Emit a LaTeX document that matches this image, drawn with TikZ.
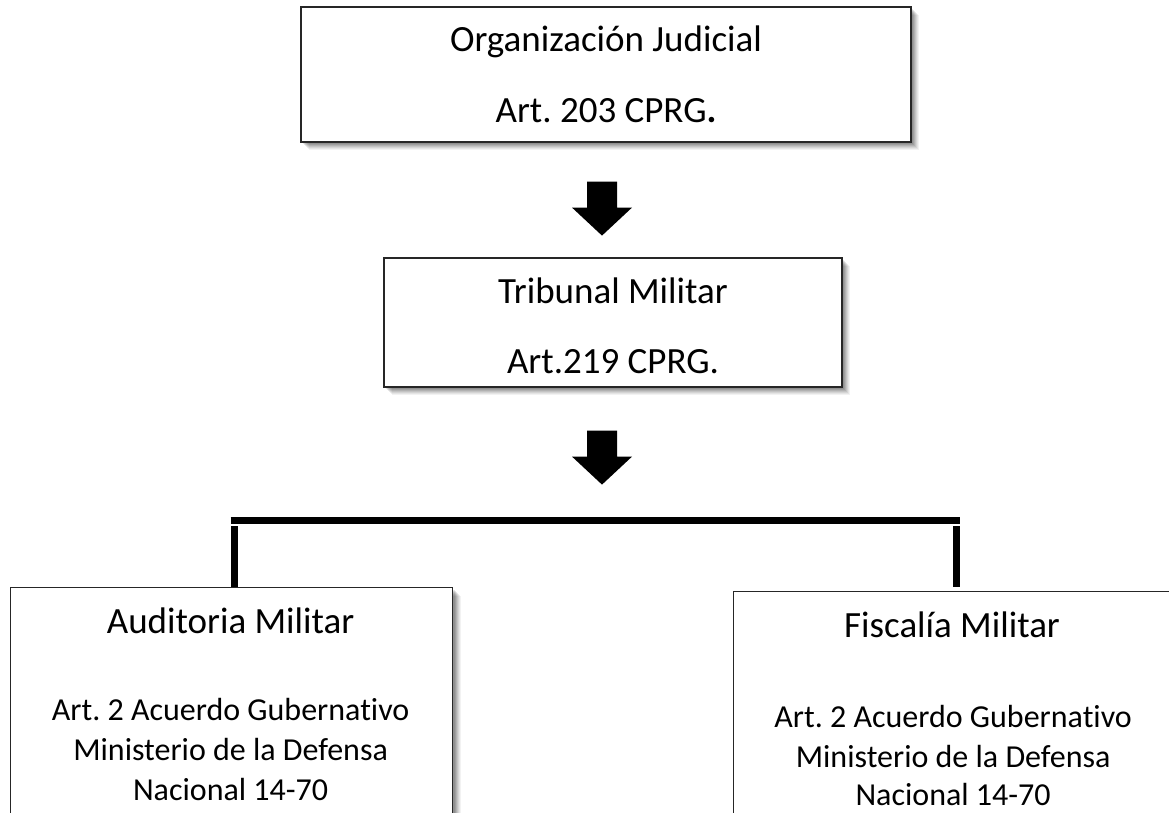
\documentclass[tikz,border=0pt]{standalone}
\usepackage{fontspec}
\setmainfont{Carlito}[Ligatures=NoCommon]
\usetikzlibrary{calc}
\frenchspacing
\tikzset{
  box/.style={rectangle, draw=black!85, line width=1.2pt, fill=white, inner sep=0pt,
    preaction={fill=black, fill opacity=0.05, transform canvas={shift={(8pt,-8pt)}}},
    preaction={fill=black, fill opacity=0.06, transform canvas={shift={(7pt,-7pt)}}},
    preaction={fill=black, fill opacity=0.07, transform canvas={shift={(6pt,-6pt)}}},
    preaction={fill=black, fill opacity=0.08, transform canvas={shift={(5pt,-5pt)}}},
    preaction={fill=black, fill opacity=0.09, transform canvas={shift={(4pt,-4pt)}}},
    preaction={fill=black, fill opacity=0.10, transform canvas={shift={(3pt,-3pt)}}},
    preaction={fill=black, fill opacity=0.10, transform canvas={shift={(2pt,-2pt)}}}},
  ttl/.style={anchor=base, inner sep=0pt, font=\fontsize{37}{44}\selectfont},
  txt/.style={anchor=base, inner sep=0pt, font=\fontsize{32}{39}\selectfont},
  blockarrow/.style={fill=black},
  busline/.style={line width=7pt, draw=black},
}
\begin{document}
\frenchspacing
\begin{tikzpicture}[x=1pt,y=-1pt]
\useasboundingbox (0,0) rectangle (1169,812);
\clip (0,0) rectangle (1169,812);
% boxes
\node[box, minimum width=610pt, minimum height=135pt] (org) at (606,74.5) {};
\node[box, minimum width=458pt, minimum height=129pt] (trib) at (613,322.5) {};
\node[box, minimum width=442pt, minimum height=260pt, anchor=north west] (aud) at (10,587) {};
\node[box, minimum width=439pt, minimum height=260pt, anchor=north west] (fis) at (733,591) {};
% texts
\node[ttl] (orgT1) at ($(org.north)+(0,45)$) {Organización Judicial};
\node[ttl] (orgT2) at ($(org.north)+(0,116)$) {Art. 203 CPRG\textbf{.}};
\node[ttl] (tribT1) at ($(trib.north)+(0,46)$) {Tribunal Militar};
\node[ttl] (tribT2) at ($(trib.north)+(0,116)$) {Art.219 CPRG.};
\node[ttl] (audT) at ($(aud.north)+(-1,46)$) {Auditoria Militar};
\node[txt] (audL1) at ($(aud.north)+(-1,133)$) {Art. 2 Acuerdo Gubernativo};
\node[txt] (audL2) at ($(aud.north)+(-1,173)$) {Ministerio de la Defensa};
\node[txt] (audL3) at ($(aud.north)+(-1,213)$) {Nacional 14-70};
\node[ttl] (fisT) at ($(fis.north)+(-1,46)$) {Fiscalía Militar};
\node[txt] (fisL1) at ($(fis.north)+(0,136)$) {Art. 2 Acuerdo Gubernativo};
\node[txt] (fisL2) at ($(fis.north)+(0,176)$) {Ministerio de la Defensa};
\node[txt] (fisL3) at ($(fis.north)+(0,214)$) {Nacional 14-70};
% block arrows
\coordinate (a1) at ($(org.south)+(-4,39)$);
\coordinate (a2) at ($(trib.south)+(-11,43)$);
\foreach \a in {a1,a2}
  \fill[blockarrow] (\a) ++(-15,0) -- ++(30,0) -- ++(0,26) -- ++(15,0) -- ++(-30,28) -- ++(-30,-28) -- ++(15,0) -- cycle;
% bracket connector
\coordinate (busL) at ($(aud.north)+(2.5,-66.5)$);
\coordinate (busR) at ($(fis.north)+(3,-70.5)$);
\draw[busline] ([xshift=-3.5pt]busL) -- ([xshift=3.5pt]busR);
\draw[busline] ([yshift=-5.5pt]busL) -- (busL |- aud.north);
\draw[busline] ([yshift=-5.5pt]busR) -- (busR |- aud.north);
\end{tikzpicture}
\end{document}
